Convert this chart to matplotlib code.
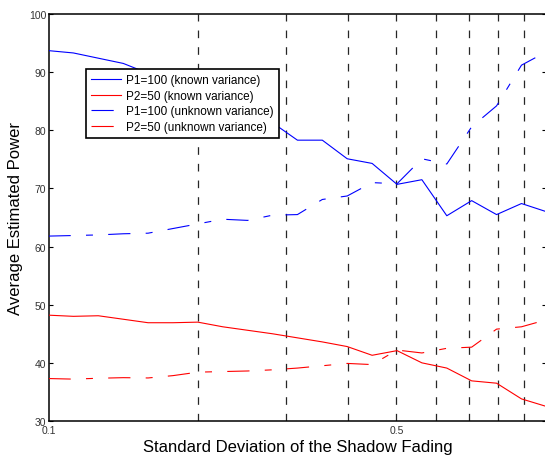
import numpy as np
import matplotlib
matplotlib.use("Agg")
import matplotlib.pyplot as plt

plt.rcParams['font.family'] = ['Liberation Sans', 'DejaVu Sans']
plt.rcParams['lines.scale_dashes'] = False

# x positions (log spaced, 0.1 .. 1) and the four curves
sigma = [0.1000, 0.1122, 0.1259, 0.1413, 0.1585, 0.1778, 0.1995, 0.2239, 0.2512, 0.2818,
         0.3162, 0.3548, 0.3981, 0.4467, 0.5012, 0.5623, 0.6310, 0.7079, 0.7943, 0.8913, 1.0]
p1_known = [93.7, 93.3, 92.4, 91.5, 89.8, 88.1, 86.4, 84.7, 83.0, 81.3,
            78.3, 78.3, 75.1, 74.3, 70.7, 71.5, 65.3, 67.9, 65.5, 67.4, 66.0]
p2_known = [48.2, 48.0, 48.1, 47.5, 46.9, 46.9, 47.0, 46.2, 45.6, 45.0,
            44.3, 43.6, 42.8, 41.3, 42.1, 40.0, 39.1, 36.9, 36.5, 33.8, 32.5]
p1_unknown = [61.8, 61.9, 62.0, 62.2, 62.3, 63.1, 63.9, 64.7, 64.5, 65.4,
              65.5, 68.1, 68.7, 71.0, 70.8, 75.1, 74.2, 80.6, 84.2, 91.2, 93.5]
p2_unknown = [37.3, 37.2, 37.35, 37.45, 37.4, 37.8, 38.4, 38.5, 38.6, 38.8,
              39.1, 39.5, 39.9, 39.7, 42.2, 41.7, 42.5, 42.7, 45.8, 46.2, 47.4]

grid_x = [0.2, 0.3, 0.4, 0.5, 0.6, 0.7, 0.8, 0.9]
labels = ['P1=100 (known variance)', 'P2=50 (known variance)',
          'P1=100 (unknown variance)', 'P2=50 (unknown variance)']

fig = plt.figure(figsize=(5.45, 4.56), dpi=100)
ax = fig.add_axes([0.089, 0.0746, 0.9135, 0.8925])

for gx in grid_x:
    ax.axvline(gx, color='0.15', lw=0.9, dashes=(5.5, 6.5), zorder=1)

dash_dot = (16, 11, 5, 11)
ax.plot(sigma, p1_known, color='b', lw=0.8, label=labels[0], zorder=3)
ax.plot(sigma, p2_known, color='r', lw=0.8, label=labels[1], zorder=3)
ax.plot(sigma, p1_unknown, color='b', lw=0.8, dashes=dash_dot, label=labels[2], zorder=3)
ax.plot(sigma, p2_unknown, color='r', lw=0.8, dashes=dash_dot, label=labels[3], zorder=3)

ax.set_xscale('log')
ax.set_xlim(0.1, 1.0)
ax.set_ylim(30, 100)
ax.set_xticks([0.1, 0.5])
ax.set_xticklabels(['0.1', '0.5'])
ax.xaxis.set_minor_locator(matplotlib.ticker.NullLocator())
ax.set_yticks(np.arange(30, 101, 10))

ax.tick_params(axis='both', direction='in', labelsize=7.5, labelcolor='0.2',
               length=3, width=0.8, pad=1.5)
ax.tick_params(axis='y', right=True)
ax.tick_params(axis='x', length=0, pad=3)
for s in ax.spines.values():
    s.set_linewidth(1.1)

ax.set_xlabel('Standard Deviation of the Shadow Fading', fontsize=12, labelpad=3)
ax.set_ylabel('Average Estimated Power', fontsize=12, labelpad=4)

leg = ax.legend(loc='upper left', bbox_to_anchor=(0.0753, 0.865), borderaxespad=0,
                fancybox=False, fontsize=8.5, handlelength=2.5, handletextpad=0.45,
                labelspacing=0.3, borderpad=0.45, framealpha=1)
leg.get_frame().set_edgecolor('black')
leg.get_frame().set_linewidth(1.2)

fig.savefig('out.png', dpi=100)
